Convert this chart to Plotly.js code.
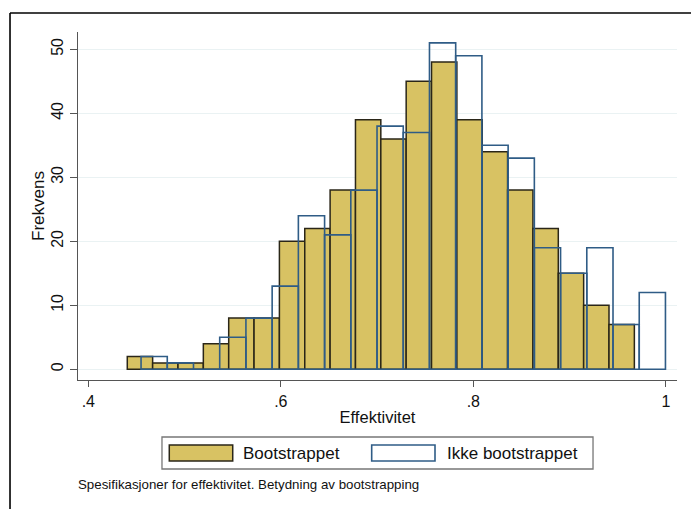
<!DOCTYPE html>
<html>
<head>
<meta charset="utf-8">
<script src="https://cdn.plot.ly/plotly-3.0.1.min.js"></script>
<style>html,body{margin:0;padding:0;background:#fff;}#chart{width:691px;height:509px;}</style>
</head>
<body>
<div id="chart"></div>
<script>
// Bootstrappet: 20 bins
var bootStart = 0.4405;
var bootWidth = 0.02634;
var bootCounts = [2, 1, 1, 4, 8, 8, 20, 22, 28, 39, 36, 45, 48, 39, 34, 28, 22, 15, 10, 7];

// Ikke bootstrappet: 20 bins
var ikkeStart = 0.4548;
var ikkeWidth = 0.02724;
var ikkeCounts = [2, 1, 0, 5, 8, 13, 24, 21, 28, 38, 37, 51, 49, 35, 33, 19, 15, 19, 7, 12];

var xTickVals = [0.4, 0.6, 0.8, 1.0];
var xTickText = ['.4', '.6', '.8', '1'];
var yTickVals = [0, 10, 20, 30, 40, 50];

var seriesNames = ['Bootstrappet', 'Ikke bootstrappet'];
var xTitle = 'Effektivitet';
var yTitle = 'Frekvens';
var caption = 'Spesifikasjoner for effektivitet. Betydning av bootstrapping';

function centers(start, width, n) {
  var c = [];
  for (var i = 0; i < n; i++) c.push(start + (i + 0.5) * width);
  return c;
}

var FONT = 'Liberation Sans, Arial, Helvetica, sans-serif';
var GOLD = '#D8C263';
var GOLD_LINE = '#2A2618';
var BLUE = '#2F5C86';

var traces = [
  {
    type: 'bar',
    name: seriesNames[0],
    x: centers(bootStart, bootWidth, bootCounts.length),
    y: bootCounts,
    width: bootWidth,
    marker: {color: GOLD, line: {color: GOLD_LINE, width: 1.5}},
    showlegend: false,
    hoverinfo: 'x+y'
  },
  {
    type: 'bar',
    name: seriesNames[1],
    x: centers(ikkeStart, ikkeWidth, ikkeCounts.length),
    y: ikkeCounts,
    width: ikkeWidth,
    marker: {color: 'rgba(0,0,0,0)', line: {color: BLUE, width: 1.6}},
    showlegend: false,
    hoverinfo: 'x+y'
  }
];

var layout = {
  width: 691,
  height: 509,
  margin: {l: 78, r: 14, t: 32, b: 129},
  paper_bgcolor: '#ffffff',
  plot_bgcolor: '#ffffff',
  barmode: 'overlay',
  font: {family: FONT, color: '#111'},
  xaxis: {
    range: [0.3893, 1.0116],
    tickvals: xTickVals,
    ticktext: xTickText,
    showgrid: false,
    zeroline: false,
    showline: true,
    linecolor: '#555',
    linewidth: 1.3,
    ticks: 'outside',
    ticklen: 6,
    tickwidth: 1.3,
    tickcolor: '#555',
    tickfont: {size: 16, family: FONT, color: '#111'},
    title: {text: xTitle, font: {size: 16.5, family: FONT, color: '#111'}, standoff: 3}
  },
  yaxis: {
    range: [-1.67, 52.7],
    tickvals: yTickVals,
    showgrid: true,
    gridcolor: '#EAF2F3',
    gridwidth: 1,
    zeroline: false,
    showline: true,
    linecolor: '#555',
    linewidth: 1.3,
    ticks: 'outside',
    ticklen: 7,
    tickwidth: 1.3,
    tickcolor: '#555',
    tickangle: -90,
    tickfont: {size: 16, family: FONT, color: '#111'},
    title: {text: yTitle, font: {size: 17, family: FONT, color: '#111'}, standoff: 0}
  },
  shapes: [
    // outer frame (top and left visible)
    {type: 'line', xref: 'paper', yref: 'paper', x0: -0.1135, x1: 1.05, y0: 1.0546, y1: 1.0546, line: {color: '#000', width: 1.6}},
    {type: 'line', xref: 'paper', yref: 'paper', x0: -0.1135, x1: -0.1135, y0: 1.0546, y1: -0.4, line: {color: '#000', width: 1.6}},
    // legend box
    {type: 'rect', xref: 'paper', yref: 'paper', x0: 0.1402, x1: 0.8598, y0: -0.2557, y1: -0.1638, line: {color: '#777', width: 1.3}, fillcolor: '#fff'},
    // legend swatches
    {type: 'rect', xref: 'paper', yref: 'paper', x0: 0.1524, x1: 0.2583, y0: -0.2328, y1: -0.1868, line: {color: GOLD_LINE, width: 1.5}, fillcolor: GOLD},
    {type: 'rect', xref: 'paper', yref: 'paper', x0: 0.4903, x1: 0.5960, y0: -0.2328, y1: -0.1868, line: {color: BLUE, width: 1.6}, fillcolor: 'rgba(0,0,0,0)'}
  ],
  annotations: [
    {xref: 'paper', yref: 'paper', x: 0.2722, y: -0.2098, xanchor: 'left', yanchor: 'middle', showarrow: false, text: seriesNames[0], font: {size: 17, family: FONT, color: '#111'}},
    {xref: 'paper', yref: 'paper', x: 0.6122, y: -0.2098, xanchor: 'left', yanchor: 'middle', showarrow: false, text: seriesNames[1], font: {size: 17, family: FONT, color: '#111'}},
    {xref: 'paper', yref: 'paper', x: -0.0034, y: -0.2989, xanchor: 'left', yanchor: 'middle', showarrow: false, text: caption, font: {size: 13.3, family: FONT, color: '#111'}}
  ]
};

Plotly.newPlot('chart', traces, layout, {displayModeBar: false, staticPlot: true});
</script>
</body>
</html>
